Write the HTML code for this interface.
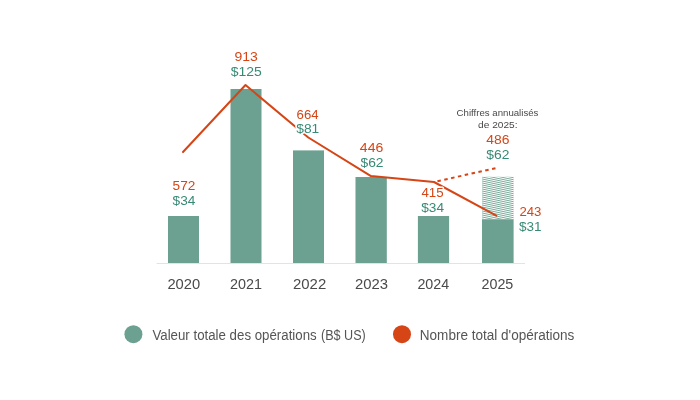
<!DOCTYPE html>
<html lang="fr">
<head>
<meta charset="utf-8">
<title>Valeur totale des opérations et nombre total d'opérations</title>
<style>
html,body{margin:0;padding:0;background:#fff;}
body{width:700px;height:400px;overflow:hidden;}
svg{display:block;}
text{font-family:"Liberation Sans",sans-serif;}
.o{fill:#d64515;font-size:13px;text-anchor:middle;}
.g{fill:#388a75;font-size:13px;text-anchor:middle;}
.y{fill:#4a4a4a;font-size:14px;}
.n{fill:#484848;font-size:9.9px;text-anchor:middle;}
.l{fill:#555;font-size:13.8px;}
.halo{stroke:#fff;stroke-width:3px;stroke-linejoin:round;paint-order:stroke;}
</style>
</head>
<body>
<svg width="700" height="400" viewBox="0 0 700 400">
<defs>
<clipPath id="hc"><rect x="482" y="176.8" width="31.6" height="42.6"/></clipPath>
</defs>
<rect width="700" height="400" fill="#fff"/>
<!-- bars -->
<g fill="#6ca090">
<rect x="168" y="216" width="31" height="47.5"/>
<rect x="230.5" y="89" width="31" height="174.5"/>
<rect x="293" y="150.4" width="31" height="113.1"/>
<rect x="355.5" y="177" width="31.3" height="86.5"/>
<rect x="417.9" y="216" width="31.2" height="47.5"/>
<rect x="482" y="219.3" width="31.6" height="44.2"/>
</g>
<path clip-path="url(#hc)" d="M480 170.53L516 178.27M480 172.53L516 180.27M480 174.53L516 182.27M480 176.53L516 184.27M480 178.53L516 186.27M480 180.53L516 188.27M480 182.53L516 190.27M480 184.53L516 192.27M480 186.53L516 194.27M480 188.53L516 196.27M480 190.53L516 198.27M480 192.53L516 200.27M480 194.53L516 202.27M480 196.53L516 204.27M480 198.53L516 206.27M480 200.53L516 208.27M480 202.53L516 210.27M480 204.53L516 212.27M480 206.53L516 214.27M480 208.53L516 216.27M480 210.53L516 218.27M480 212.53L516 220.27M480 214.53L516 222.27M480 216.53L516 224.27M480 218.53L516 226.27M480 220.53L516 228.27M480 222.53L516 230.27M480 224.53L516 232.27" fill="none" stroke="#6ca090" stroke-width="0.9"/>
<!-- axis -->
<rect x="156.6" y="263" width="368.4" height="1" fill="#e3e3e3"/>
<!-- line -->
<polyline points="434,182 496.3,168" fill="none" stroke="#d64515" stroke-width="2" stroke-dasharray="3.5 3.5" stroke-dashoffset="3.5" stroke-linecap="butt"/>
<polyline points="183,152 245.5,85 308.3,137.5 371,176.1 434,182 496.3,215.7" fill="none" stroke="#d64515" stroke-width="2" stroke-linejoin="round" stroke-linecap="round"/>
<!-- labels -->
<text class="o" x="184" y="190.3" textLength="22.8" lengthAdjust="spacingAndGlyphs">572</text>
<text class="g" x="184" y="205.2" textLength="22.8" lengthAdjust="spacingAndGlyphs">$34</text>
<text class="o" x="246.1" y="61.4" textLength="23.4" lengthAdjust="spacingAndGlyphs">913</text>
<text class="g" x="246.3" y="76.2" textLength="31.1" lengthAdjust="spacingAndGlyphs">$125</text>
<text class="o halo" x="307.6" y="118.5" textLength="22.0" lengthAdjust="spacingAndGlyphs">664</text>
<text class="g halo" x="307.8" y="133.1" textLength="23.0" lengthAdjust="spacingAndGlyphs">$81</text>
<text class="o" x="371.6" y="152" textLength="23.5" lengthAdjust="spacingAndGlyphs">446</text>
<text class="g" x="372" y="167" textLength="23.1" lengthAdjust="spacingAndGlyphs">$62</text>
<text class="o halo" x="432.5" y="196.9" textLength="22.2" lengthAdjust="spacingAndGlyphs">415</text>
<text class="g" x="432.6" y="212" textLength="22.8" lengthAdjust="spacingAndGlyphs">$34</text>
<text class="o" x="497.8" y="143.8" textLength="23.2" lengthAdjust="spacingAndGlyphs">486</text>
<text class="g" x="497.9" y="158.6" textLength="23.1" lengthAdjust="spacingAndGlyphs">$62</text>
<text class="o" x="530.4" y="216.3" textLength="22.0" lengthAdjust="spacingAndGlyphs">243</text>
<text class="g" x="530.3" y="231.3" textLength="22.6" lengthAdjust="spacingAndGlyphs">$31</text>
<text class="n" x="497.5" y="115.8" textLength="81.8" lengthAdjust="spacingAndGlyphs">Chiffres annualisés</text>
<text class="n" x="497.8" y="128" textLength="39.4" lengthAdjust="spacingAndGlyphs">de 2025:</text>
<!-- years -->
<text class="y" x="167.4" y="289" textLength="32.8" lengthAdjust="spacingAndGlyphs">2020</text>
<text class="y" x="229.9" y="289" textLength="32.0" lengthAdjust="spacingAndGlyphs">2021</text>
<text class="y" x="293.0" y="289" textLength="33.2" lengthAdjust="spacingAndGlyphs">2022</text>
<text class="y" x="355.0" y="289" textLength="33.0" lengthAdjust="spacingAndGlyphs">2023</text>
<text class="y" x="417.4" y="289" textLength="31.8" lengthAdjust="spacingAndGlyphs">2024</text>
<text class="y" x="481.5" y="289" textLength="31.8" lengthAdjust="spacingAndGlyphs">2025</text>
<!-- legend -->
<circle cx="133.4" cy="334.2" r="9" fill="#6ca090"/>
<text class="l" y="339.9"><tspan x="152.4" textLength="164.3" lengthAdjust="spacingAndGlyphs">Valeur totale des opérations</tspan> <tspan x="321" textLength="44.8" lengthAdjust="spacingAndGlyphs">(B$ US)</tspan></text>
<circle cx="402" cy="334.2" r="9" fill="#d64515"/>
<text class="l" x="419.8" y="339.9" textLength="154.6" lengthAdjust="spacingAndGlyphs">Nombre total d'opérations</text>
</svg>
</body>
</html>
